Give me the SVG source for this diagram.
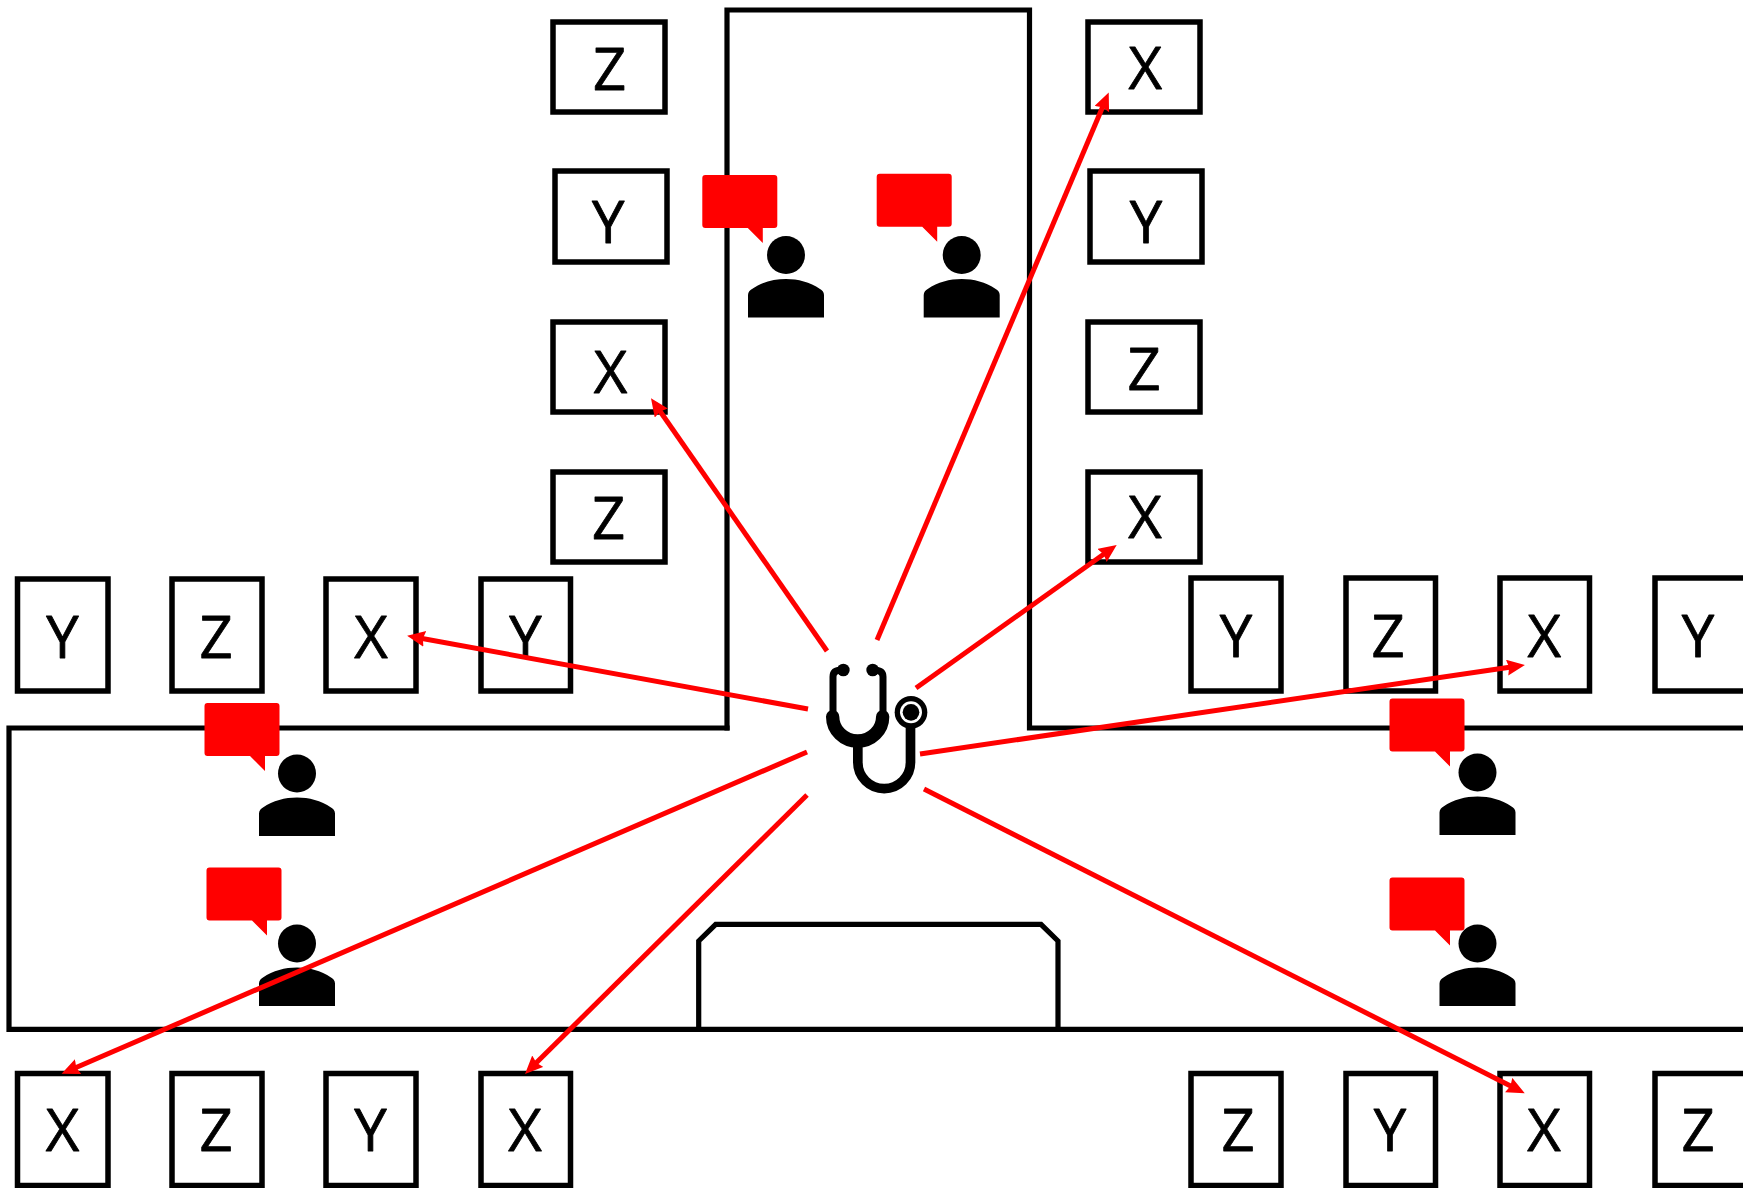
<svg xmlns="http://www.w3.org/2000/svg" width="1743" height="1188" viewBox="0 0 1743 1188">
<style>
.box{fill:#fff;stroke:#000;stroke-width:5.500}
.wall{fill:none;stroke:#000;stroke-width:5.200;stroke-linecap:square}
.t{font-family:"Open Sans","Liberation Sans",sans-serif;font-size:58px;fill:#000;stroke:#000;stroke-width:.8;stroke-linejoin:round;text-anchor:middle}
.a{fill:none;stroke:#f00;stroke-width:5;marker-end:url(#ah)}
</style>
<defs>
<marker id="ah" markerUnits="userSpaceOnUse" markerWidth="20" markerHeight="18" refX="11" refY="8" orient="auto"><path d="M18 8L0 0L2 8L0 16Z" fill="#f00"/></marker>
<symbol id="person" overflow="visible"><circle cx="0" cy="0" r="19" fill="#000"/><path d="M-38 62.500V40C-38 37-36 35-34 34C-24 27-12 24 0 24S24 27 34 34C36 35 38 37 38 40V62.500Z" fill="#000"/></symbol>
<symbol id="bubble" overflow="visible"><path d="M3 0H72Q75 0 75 3V50Q75 53 72 53H60.500V68L45.500 53H3Q0 53 0 50V3Q0 0 3 0Z" fill="#f00"/></symbol>
</defs>
<rect width="1743" height="1188" fill="#fff"/>
<g id="walls">
<path class="wall" d="M727 728V10H1029.500V728H1743"/>
<path class="wall" d="M727 728H9V1029.300H1743"/>
<path class="wall" d="M698.700 1029V941L715.700 924.300H1041L1058 941V1029"/>
</g>
<g id="n1"><rect class="box" x="553" y="22" width="112" height="90"/><text class="t" x="609.500" y="90">Z</text></g>
<g id="n2"><rect class="box" x="555" y="171" width="112" height="91"/><text class="t" x="608.300" y="242.500">Y</text></g>
<g id="n3"><rect class="box" x="553" y="322" width="112" height="90"/><text class="t" x="610.500" y="393">X</text></g>
<g id="n4"><rect class="box" x="553" y="472" width="112" height="90"/><text class="t" x="608.500" y="539">Z</text></g>
<g id="n5"><rect class="box" x="1088" y="22" width="112" height="90"/><text class="t" x="1145.300" y="88.500">X</text></g>
<g id="n6"><rect class="box" x="1090" y="171" width="112" height="91"/><text class="t" x="1146" y="242.500">Y</text></g>
<g id="n7"><rect class="box" x="1088" y="322" width="112" height="90"/><text class="t" x="1144" y="390">Z</text></g>
<g id="n8"><rect class="box" x="1088" y="472" width="112" height="90"/><text class="t" x="1145" y="538">X</text></g>
<g id="n9"><rect class="box" x="17.500" y="579" width="90.500" height="112"/><text class="t" x="62.500" y="658">Y</text></g>
<g id="n10"><rect class="box" x="172" y="579" width="90" height="112"/><text class="t" x="216" y="658">Z</text></g>
<g id="n11"><rect class="box" x="326" y="579" width="90" height="112"/><text class="t" x="371" y="658">X</text></g>
<g id="n12"><rect class="box" x="481" y="579" width="89.500" height="112"/><text class="t" x="525.500" y="658">Y</text></g>
<g id="n13"><rect class="box" x="1191" y="578" width="90" height="113"/><text class="t" x="1236" y="657">Y</text></g>
<g id="n14"><rect class="box" x="1346" y="578" width="89.500" height="113"/><text class="t" x="1388" y="657">Z</text></g>
<g id="n15"><rect class="box" x="1500" y="578" width="89.500" height="113"/><text class="t" x="1544.300" y="657">X</text></g>
<g id="n16"><rect class="box" x="1655" y="578" width="91" height="113"/><text class="t" x="1698" y="657">Y</text></g>
<g id="n17"><rect class="box" x="17.500" y="1073.500" width="90.500" height="112"/><text class="t" x="62.500" y="1150.700">X</text></g>
<g id="n18"><rect class="box" x="172" y="1073.500" width="90" height="112"/><text class="t" x="216" y="1150.700">Z</text></g>
<g id="n19"><rect class="box" x="326" y="1073.500" width="90" height="112"/><text class="t" x="370.500" y="1150.700">Y</text></g>
<g id="n20"><rect class="box" x="481" y="1073.500" width="89.500" height="112"/><text class="t" x="525" y="1150.700">X</text></g>
<g id="n21"><rect class="box" x="1191" y="1073.500" width="90" height="112"/><text class="t" x="1238" y="1150.700">Z</text></g>
<g id="n22"><rect class="box" x="1346" y="1073.500" width="89.500" height="112"/><text class="t" x="1390" y="1150.700">Y</text></g>
<g id="n23"><rect class="box" x="1500" y="1073.500" width="89.500" height="112"/><text class="t" x="1544" y="1150.700">X</text></g>
<g id="n24"><rect class="box" x="1655" y="1073.500" width="91" height="112"/><text class="t" x="1698" y="1150.700">Z</text></g>
<g id="p1"><use href="#bubble" x="702.300" y="175"/><use href="#person" x="786" y="255"/></g>
<g id="p2"><use href="#bubble" x="876.700" y="173.700"/><use href="#person" x="961.700" y="255"/></g>
<g id="p3"><use href="#bubble" x="204.500" y="703"/><use href="#person" x="297" y="773.500"/></g>
<g id="p4"><use href="#bubble" x="206.500" y="867.500"/><use href="#person" x="297" y="943.500"/></g>
<g id="p5"><use href="#bubble" x="1389.500" y="698.500"/><use href="#person" x="1477.500" y="772.500"/></g>
<g id="p6"><use href="#bubble" x="1389.500" y="877.500"/><use href="#person" x="1477.500" y="943.500"/></g>
<g id="stethoscope" transform="translate(760 620) scale(.33333)" fill="none" stroke="#000">
<path d="M245 150Q219 150 219 170V285M340 150Q369 150 369 170V285" stroke-width="21"/>
<path d="M218 290A75 73 0 0 0 368 290" stroke-width="40" stroke-linecap="round"/>
<path d="M293.500 370V427A79 79 0 0 0 451.500 427V310" stroke-width="29"/>
<circle cx="250" cy="150" r="19" fill="#000" stroke="none"/><circle cx="338" cy="150" r="19" fill="#000" stroke="none"/>
<circle cx="453" cy="277" r="49" fill="#000" stroke="none"/><circle cx="453" cy="277" r="33" fill="#fff" stroke="none"/><circle cx="453" cy="277" r="25" fill="#000" stroke="none"/>
</g>
<g id="connectors">
<path class="a" d="M827 651L655 404"/>
<path class="a" d="M877 640L1106 99"/>
<path class="a" d="M916 688L1111 549"/>
<path class="a" d="M808 709L414 637"/>
<path class="a" d="M920 754L1518 666"/>
<path class="a" d="M807 752L68 1071"/>
<path class="a" d="M807 795L530 1069"/>
<path class="a" d="M924 789L1518.500 1090"/>
</g>
</svg>
